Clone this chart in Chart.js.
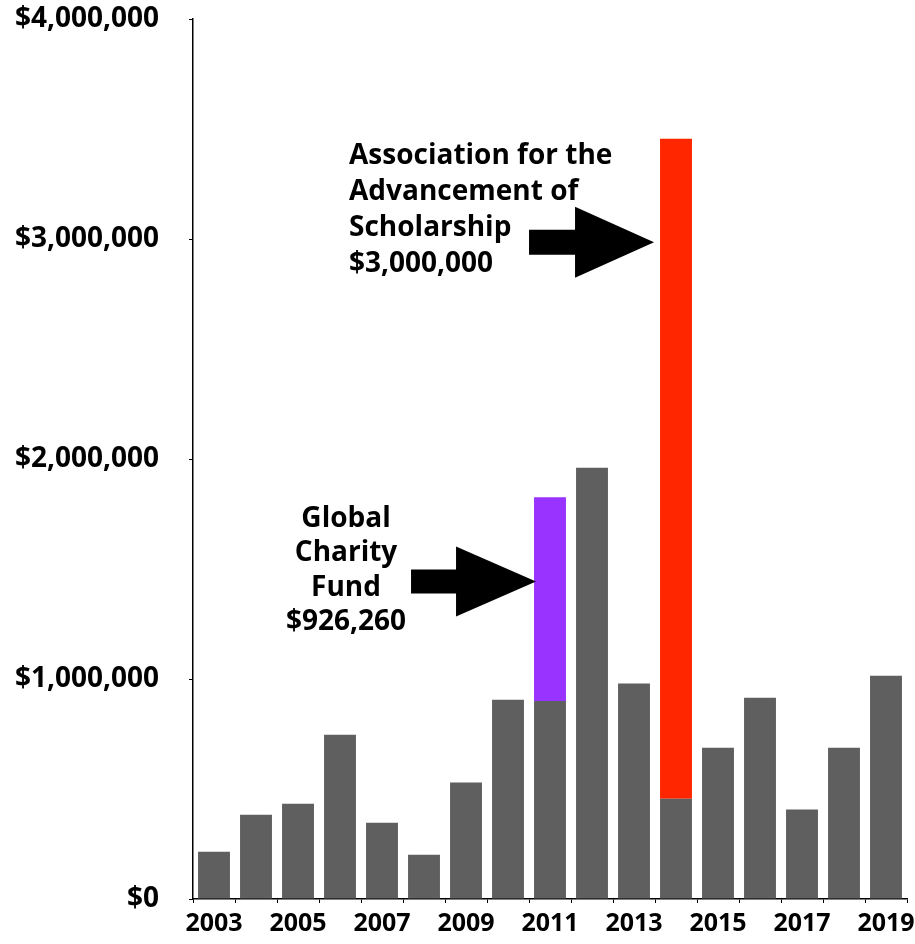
<!DOCTYPE html>
<html>
<head>
<meta charset="utf-8">
<script src="https://cdn.jsdelivr.net/npm/chart.js@4"></script>
<style>
  html, body { margin: 0; padding: 0; background: #fff; }
  #wrap { width: 915px; height: 944px; }
</style>
</head>
<body>
<div id="wrap"><canvas id="giftsChart" width="915" height="944"></canvas></div>
<script>
// data
const years = ['2003', '2004', '2005', '2006', '2007', '2008', '2009', '2010', '2011',
               '2012', '2013', '2014', '2015', '2016', '2017', '2018', '2019'];
const otherGifts = [215000, 383000, 433000, 747000, 347000, 201000, 529000, 906000, 900000,
                    1960000, 979000, 456000, 688000, 915000, 407000, 688000, 1015000];
const globalCharity = [0, 0, 0, 0, 0, 0, 0, 0, 926260, 0, 0, 0, 0, 0, 0, 0, 0];
const scholarship = [0, 0, 0, 0, 0, 0, 0, 0, 0, 0, 0, 3000000, 0, 0, 0, 0, 0];
const yTicks = [0, 1000000, 2000000, 3000000, 4000000];

const FONT = '"Open Sans", "DejaVu Sans", sans-serif';

function money(v) {
    return '$' + Number(v).toLocaleString('en-US');
}

// arrow + text callouts, anchored to bars through the scales
function drawArrow(ctx, tipX, tipY, shaftLen, headLen, shaftH, headH) {
    ctx.beginPath();
    ctx.moveTo(tipX, tipY);
    ctx.lineTo(tipX - headLen, tipY - headH / 2);
    ctx.lineTo(tipX - headLen, tipY - shaftH / 2);
    ctx.lineTo(tipX - headLen - shaftLen, tipY - shaftH / 2);
    ctx.lineTo(tipX - headLen - shaftLen, tipY + shaftH / 2);
    ctx.lineTo(tipX - headLen, tipY + shaftH / 2);
    ctx.lineTo(tipX - headLen, tipY + headH / 2);
    ctx.closePath();
    ctx.fillStyle = '#000';
    ctx.fill();
}

const callouts = {
    id: 'callouts',
    afterDatasetsDraw(chart) {
        const ctx = chart.ctx;
        const y = chart.scales.y;
        ctx.save();
        ctx.font = 'bold 28px ' + FONT;
        ctx.fillStyle = '#000';
        ctx.textBaseline = 'middle';

        // scholarship (2014)
        const red = chart.getDatasetMeta(2).data[11];
        const tip1x = red.x - red.width / 2 - 6;
        const tip1y = y.getPixelForValue(2985000);
        drawArrow(ctx, tip1x, tip1y, 46, 79, 25, 71);
        ctx.textAlign = 'left';
        const t1 = ['Association for the', 'Advancement of', 'Scholarship', money(scholarship[11])];
        t1.forEach((s, i) => ctx.fillText(s, tip1x - 305, tip1y - 86 + i * 36));

        // global charity (2011)
        const pur = chart.getDatasetMeta(1).data[8];
        const tip2x = pur.x - pur.width / 2 + 2;
        const tip2y = y.getPixelForValue(1443000);
        drawArrow(ctx, tip2x, tip2y, 45, 80, 24, 70);
        ctx.textAlign = 'center';
        const t2 = ['Global', 'Charity', 'Fund', money(globalCharity[8])];
        t2.forEach((s, i) => ctx.fillText(s, tip2x - 190, tip2y - 63 + i * 34.5));
        ctx.restore();
    }
};

new Chart(document.getElementById('giftsChart'), {
    type: 'bar',
    data: {
        labels: years,
        datasets: [
            { label: 'Other gifts', data: otherGifts, backgroundColor: '#5f5f5f' },
            { label: 'Global Charity Fund', data: globalCharity, backgroundColor: '#9933ff' },
            { label: 'Association for the Advancement of Scholarship', data: scholarship, backgroundColor: '#ff2600' }
        ]
    },
    options: {
        responsive: false,
        animation: false,
        datasets: { bar: { barPercentage: 0.76, categoryPercentage: 1 } },
        layout: { padding: { top: 19, right: 8, left: 0, bottom: 0 } },
        plugins: { legend: { display: false }, tooltip: { enabled: false } },
        scales: {
            x: {
                stacked: true,
                grid: { display: true, drawOnChartArea: false, drawTicks: true, tickLength: 4, color: '#000', offset: true },
                border: { color: '#000', width: 1.5 },
                ticks: {
                    autoSkip: false,
                    maxRotation: 0,
                    color: '#000',
                    font: { family: FONT, size: 25, weight: 'bold' },
                    padding: 6,
                    callback: (v, i) => (i % 2 === 0 ? years[i] : '')
                },
                afterFit: s => { s.height = 45; s.paddingLeft = 0; s.paddingRight = 0; }
            },
            y: {
                stacked: true,
                min: 0,
                max: 4000000,
                grid: { display: true, drawOnChartArea: false, drawTicks: true, tickLength: 4, color: '#000' },
                border: { color: '#000', width: 1.5 },
                afterBuildTicks: s => { s.ticks = yTicks.map(v => ({ value: v })); },
                ticks: {
                    color: '#000',
                    font: { family: FONT, size: 28, weight: 'bold' },
                    padding: 30,
                    callback: v => money(v)
                },
                afterFit: s => { s.width = 193; s.paddingTop = 0; s.paddingBottom = 0; }
            }
        }
    },
    plugins: [callouts]
});
</script>
</body>
</html>
